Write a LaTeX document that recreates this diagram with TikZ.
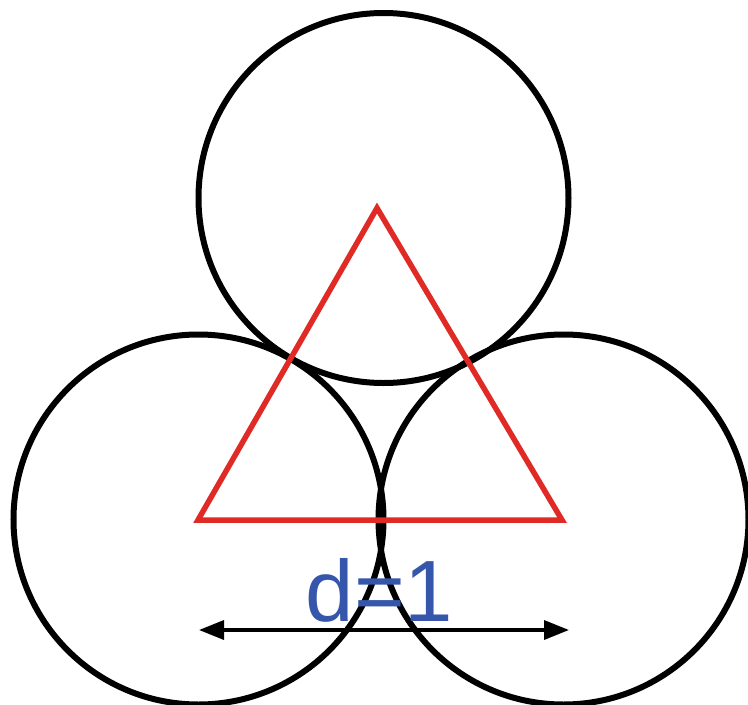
\documentclass[tikz,border=0pt]{standalone}
\usepackage{fontspec}
\setmainfont{Liberation Sans}
\usetikzlibrary{arrows.meta}
\definecolor{tri}{HTML}{E02A26}
\definecolor{lbl}{HTML}{3556AA}
\begin{document}
\begin{tikzpicture}[x=1pt,y=-1pt,
  ring/.style={circle,draw=black,line width=6pt,minimum size=370pt,inner sep=0pt},
  redline/.style={draw=tri,line width=5.5pt,line join=miter},
  dim/.style={draw=black,line width=3.5pt,{Triangle[length=25pt,width=19pt]}-{Triangle[length=25pt,width=19pt]}}]
\useasboundingbox (0,0) rectangle (748,705);
\node[ring] (top) at (383.5,198) {};
\node[ring] (left) at (198.5,519.5) {};
\node[ring] (right) at (563.5,519.5) {};
\coordinate (A) at (377,208);
\coordinate (B) at (198,520);
\coordinate (C) at (562,520);
\draw[redline] (A) -- (B) -- (C) -- cycle;
\coordinate (L) at (199,630);
\coordinate (R) at (569,630);
\draw[dim] (L) -- (R);
\node[text=lbl,font=\fontsize{87}{87}\selectfont,anchor=base,inner sep=0pt] (d) at (379.5,621) {d=1};
\end{tikzpicture}
\end{document}
